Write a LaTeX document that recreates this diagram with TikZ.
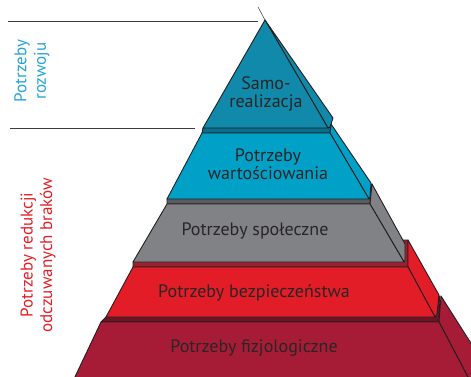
\documentclass[tikz,border=0pt]{standalone}
\usepackage{fontspec}
\setmainfont{PT Sans}
\usepackage{tikz}
\definecolor{edgeclr}{HTML}{231F20}
\definecolor{ruleclr}{HTML}{3C3C3C}
\definecolor{txtclr}{HTML}{2A2526}
\definecolor{tealA}{HTML}{1089AA}
\definecolor{blueB}{HTML}{00A0C7}
\definecolor{blueBdk}{HTML}{0A6F8C}
\definecolor{grayC}{HTML}{808285}
\definecolor{grayCdk}{HTML}{5A5B5E}
\definecolor{redD}{HTML}{E31D27}
\definecolor{redDdk}{HTML}{9C2130}
\definecolor{wineE}{HTML}{A61C37}
\definecolor{wineEdk}{HTML}{6E1424}
\definecolor{growclr}{HTML}{27A4D6}
\definecolor{lackclr}{HTML}{E31E26}

\begin{document}
\begin{tikzpicture}[
  x=1pt,y=-1pt,
  font=\fontsize{18}{18}\selectfont,
  face/.style={draw=edgeclr,line width=0.9pt,line join=round},
  lbl/.style={text=txtclr,align=center,inner sep=0pt},
  grp/.style={align=center,inner sep=0pt,rotate=90,font=\fontsize{17}{19.5}\selectfont},
  rule/.style={draw=ruleclr,line width=0.8pt}
]
\useasboundingbox (0,0) rectangle (471,377);
\clip (0,0) rectangle (471,377);

% ---------------- level 5: fizjologiczne (partly cut off)
\draw[face,fill=wineEdk] (101,322) -- (439,322) -- (440,296) -- (126,296) -- (106,317) -- cycle;
\draw[face,fill=wineE] (439,322) -- (441,296) -- (507,400) -- (480,400) -- cycle;
\draw[face,fill=wineE] (101,322) -- (439,322) -- (480,400) -- (64,400) -- cycle;

% ---------------- level 4: bezpieczenstwa
\draw[face,fill=redDdk] (133,267) -- (408,267) -- (408,240) -- (153,240) -- (133,262) -- cycle;
\draw[face,fill=redD] (408,267) -- (408,240) -- (439,295) -- (437,314) -- (435,317) -- cycle;
\draw[face,fill=redD] (133,267) -- (408,267) -- (435,317) -- (106,317) -- cycle;

% ---------------- level 3: spoleczne
\draw[face,fill=grayCdk] (167,204) -- (370,204) -- (372,184) -- (187,184) -- (167,199) -- cycle;
\draw[face,fill=grayC] (370,204) -- (372,184) -- (405,244) -- (405,260) -- (404,262) -- cycle;
\draw[face,fill=grayC] (167,204) -- (370,204) -- (404,262) -- (133,262) -- cycle;

% ---------------- level 2: wartosciowania
\draw[face,fill=blueBdk] (202,133) -- (330,133) -- (331,124) -- (223,124) -- (203,128) -- cycle;
\draw[face,fill=blueB] (330,133) -- (331,124) -- (371,183) -- (370,197) -- (369,199) -- cycle;
\draw[face,fill=blueB] (202,133) -- (330,133) -- (369,199) -- (167,199) -- cycle;

% ---------------- level 1: samorealizacja (apex)
\coordinate (apex) at (265,20);
\coordinate (tip) at (258,7);
\draw[face,fill=tealA] (apex) -- (333,118) -- (330,127) -- (328,128) -- cycle;
\draw[face,fill=tealA] (apex) -- (328,128) -- (203,128) -- cycle;
\draw[draw=ruleclr,line width=0.5pt] (tip) -- (apex);

% ---------------- labels on the levels
\node[lbl] (l1) at (266,94) {Samo-\\realizacja};
\node[lbl] (l2) at (268,164) {Potrzeby\\wartościowania};
\node[lbl] (l3) at (255,231) {Potrzeby społeczne};
\node[lbl] (l4) at (254,293) {Potrzeby bezpieczeństwa};
\node[lbl] (l5) at (254,348) {Potrzeby fizjologiczne};

% ---------------- left: groups and rules
\coordinate (r1a) at (8,21);
\coordinate (r1b) at (258,21);
\coordinate (r2a) at (10,128);
\coordinate (r2b) at (195,128);
\draw[rule] (r1a) -- (r1b);
\draw[rule] (r2a) -- (r2b);
\node[grp,text=growclr] (g1) at (32,71) {Potrzeby\\rozwoju};
\node[grp,text=lackclr] (g2) at (38,255) {Potrzeby redukcji\\odczuwanych braków};
\end{tikzpicture}
\end{document}
